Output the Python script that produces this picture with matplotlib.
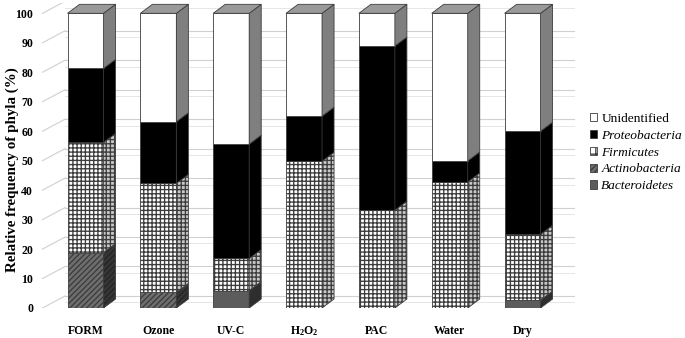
import numpy as np
import matplotlib
matplotlib.use("Agg")
import matplotlib.pyplot as plt
from matplotlib.patches import Polygon, Patch

categories = ["FORM", "Ozone", "UV-C", r"$\mathbf{H_2O_2}$", "PAC", "Water", "Dry"]
bacteroidetes = [0.0, 0.0, 5.9, 0.0, 0.0, 0.0, 2.7]
actinobacteria = [18.8, 5.3, 0.0, 0.0, 0.0, 0.0, 0.0]
firmicutes = [37.4, 37.0, 10.9, 49.8, 33.2, 42.8, 22.3]
proteobacteria = [25.1, 20.9, 38.8, 15.3, 55.7, 7.1, 35.0]
unidentified = [18.7, 36.8, 44.4, 34.9, 11.1, 50.1, 40.0]
yticks = [0, 10, 20, 30, 40, 50, 60, 70, 80, 90, 100]

plt.rcParams.update({
    "font.family": "Liberation Serif",
    "mathtext.fontset": "custom",
    "mathtext.rm": "Liberation Serif",
    "mathtext.bf": "Liberation Serif:bold",
    "hatch.linewidth": 0.95,
    "hatch.color": "black",
})

EDGE = "#3c3c3c"
# (name, values, front face, front hatch, side face, side hatch)
series = [
    ("Bacteroidetes", bacteroidetes, "#5c5c5c", None, "#2e2e2e", None),
    ("Actinobacteria", actinobacteria, "#6e6e6e", "//////", "#2a2a2a", "//////"),
    ("Firmicutes", firmicutes, "white", "++++", "#c8c8c8", "++++"),
    ("Proteobacteria", proteobacteria, "black", None, "black", None),
    ("Unidentified", unidentified, "white", None, "#7f7f7f", None),
]

W = 0.494          # bar width in category units
DX, DY = 0.165, 3.05   # bar depth
WX, WY = 0.31, 4.1     # wall depth

fig = plt.figure(figsize=(6.85, 3.38), dpi=100)
ax = fig.add_axes([40 / 685, 30 / 338, 535 / 685, 305 / 338])
x = np.arange(len(categories))
ax.set_xlim(-0.625, 6.72)
ax.set_ylim(0, 103.5)

# back wall + side wall gridlines
for v in yticks:
    ax.plot([-0.59, -0.59 + WX], [v, v + WY], color="#d0d0d0", lw=0.8, zorder=0)
    ax.plot([-0.59 + WX, 6.72], [v + WY, v + WY], color="#d0d0d0", lw=0.8, zorder=0)
    ax.plot([-0.59 + WX, 6.72], [v + WY - 2.2, v + WY - 2.2], color="#e6e6e6", lw=0.7, zorder=0)

bottom = np.zeros(len(categories))
for name, vals, fc, hatch, sc, shatch in series:
    vals = np.asarray(vals)
    ax.bar(x, vals, W, bottom=bottom, color=fc, hatch=hatch, edgecolor=EDGE,
           linewidth=0.6, zorder=3)
    for xi, b, v in zip(x, bottom, vals):
        if v <= 0:
            continue
        r = xi + W / 2
        ax.add_patch(Polygon([(r, b), (r + DX, b + DY), (r + DX, b + v + DY), (r, b + v)],
                             closed=True, facecolor=sc, hatch=shatch, edgecolor=EDGE,
                             linewidth=0.6, zorder=3))
    bottom = bottom + vals

for xi, top in zip(x, bottom):
    l, r = xi - W / 2, xi + W / 2
    ax.add_patch(Polygon([(l, top), (r, top), (r + DX, top + DY), (l + DX, top + DY)],
                         closed=True, facecolor="#9a9a9a", edgecolor=EDGE,
                         linewidth=0.6, zorder=4))

ax.set_xticks(x)
ax.set_xticklabels(categories, fontsize=8.5, fontweight="bold")
ax.set_yticks(yticks)
ax.set_yticklabels([str(v) for v in yticks], fontsize=8.5, fontweight="bold")
ax.tick_params(length=0)
ax.tick_params(axis="x", pad=12)
ax.tick_params(axis="y", pad=5)
for s in ax.spines.values():
    s.set_visible(False)
ax.patch.set_alpha(0)

fig.text(12 / 685, 1 - 170 / 338, "Relative frequency of phyla (%)", rotation=90,
         ha="center", va="center", fontsize=10.8, fontweight="bold")

handles = [
    Patch(facecolor="white", edgecolor=EDGE, linewidth=0.6),
    Patch(facecolor="black", edgecolor=EDGE, linewidth=0.6),
    Patch(facecolor="white", hatch="++", edgecolor=EDGE, linewidth=0.6),
    Patch(facecolor="#6e6e6e", hatch="//////", edgecolor=EDGE, linewidth=0.6),
    Patch(facecolor="#5c5c5c", edgecolor=EDGE, linewidth=0.6),
]
labels = ["Unidentified", "Proteobacteria", "Firmicutes", "Actinobacteria", "Bacteroidetes"]
leg = fig.legend(handles, labels, loc="upper left", bbox_to_anchor=(590 / 685, 1 - 113 / 338),
                 frameon=False, fontsize=9.6, handlelength=0.55, handleheight=0.55,
                 handletextpad=0.3, labelspacing=0.36, borderpad=0, borderaxespad=0)
for t in leg.get_texts()[1:]:
    t.set_style("italic")

fig.savefig("out.png", dpi=100)
